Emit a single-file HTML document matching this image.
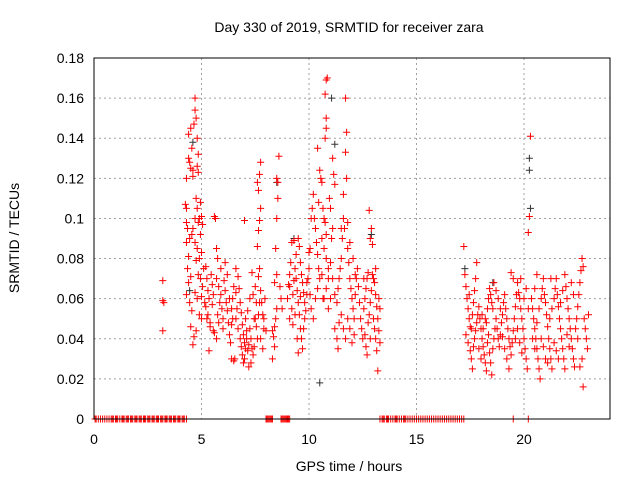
<!DOCTYPE html>
<html><head><meta charset="utf-8"><style>
body{margin:0;background:#fff}
svg{display:block;font-family:"Liberation Sans",sans-serif}
</style></head><body>
<svg id="chart" width="640" height="480" xmlns="http://www.w3.org/2000/svg">
<rect width="640" height="480" fill="#fff"/>
<text x="349" y="32" font-size="14" text-anchor="middle">Day 330 of 2019, SRMTID for receiver zara</text>
<text transform="translate(19,238) rotate(-90)" font-size="14" text-anchor="middle">SRMTID / TECUs</text>
<text x="349" y="471" font-size="14" text-anchor="middle">GPS time / hours</text>
<g id="grid"></g>
<g id="ticks"></g>
<g id="marks"></g>
<rect x="94" y="58" width="516" height="361" fill="none" stroke="#000" stroke-width="1"/>
</svg>
<script>
const xTicks=[0,5,10,15,20];
const yTicks=[0,0.02,0.04,0.06,0.08,0.1,0.12,0.14,0.16,0.18];
const yTickLabels=["0","0.02","0.04","0.06","0.08","0.1","0.12","0.14","0.16","0.18"];
const zeroHours=[0.05,0.1,0.2,0.3,0.4,0.5,0.6,0.7,0.8,0.85,0.9,1.0,1.05,1.1,1.2,1.3,1.35,1.4,1.5,1.55,1.6,1.7,1.75,1.8,1.9,1.95,2.0,2.1,2.15,2.2,2.3,2.35,2.4,2.5,2.55,2.6,2.7,2.75,2.8,2.9,2.95,3.0,3.1,3.15,3.2,3.3,3.35,3.4,3.5,3.55,3.6,3.7,3.75,3.8,3.9,3.95,4.0,4.1,4.15,4.2,4.3,8.0,8.05,8.1,8.15,8.2,8.25,8.3,8.7,8.75,8.8,8.85,8.9,8.95,9.0,9.05,9.1,13.3,13.4,13.45,13.5,13.6,13.65,13.7,13.8,13.9,14.0,14.05,14.1,14.2,14.3,14.4,14.45,14.5,14.6,14.7,14.8,14.9,15.0,15.1,15.2,15.3,15.4,15.5,15.6,15.7,15.8,15.9,16.0,16.1,16.2,16.3,16.4,16.5,16.6,16.7,16.8,16.9,17.0,17.1,17.2,19.5,20.2];
const redPoints=[[3.2,.069],[3.2,.059],[3.25,.058],[3.2,.044],
[4.25,.107],[4.3,.105],[4.3,.098],[4.35,.095],[4.3,.088],[4.4,.081],[4.35,.075],[4.3,.062],[4.4,.068],[4.45,.058],[4.5,.071],[4.55,.054],[4.5,.046],[4.6,.037],[4.65,.041],[4.4,.142],[4.5,.145],[4.55,.135],[4.45,.128],[4.6,.124],[4.6,.121],[4.7,.160],[4.7,.154],[4.65,.147],[4.75,.15],[4.8,.140],[4.85,.132],[4.8,.126],[4.85,.123],[4.3,.12],[4.4,.13],[4.5,.125],[4.75,.11],[4.8,.105],[4.85,.098],[4.7,.1],[4.6,.095],[4.9,.1],[4.95,.108],[5.0,.101],[5.05,.097],[4.95,.092],[4.7,.088],[4.8,.085],[4.75,.079],[4.9,.08],[5.0,.083],[4.85,.072],[4.95,.07],[5.05,.066],[4.7,.063],[4.8,.06],[5.0,.061],[5.1,.075],[5.15,.058],[4.9,.052],[5.0,.05],[4.75,.044],[4.55,.092],[4.45,.09],
[5.2,.076],[5.25,.07],[5.3,.064],[5.35,.06],[5.3,.052],[5.4,.048],[5.45,.072],[5.5,.067],[5.5,.057],[5.55,.062],[5.6,.101],[5.65,.1],[5.7,.085],[5.75,.08],[5.7,.07],[5.8,.066],[5.85,.058],[5.6,.043],[5.7,.04],[5.75,.052],[5.8,.048],[5.9,.062],[5.95,.055],[6.0,.045],[6.0,.05],[6.05,.069],[6.1,.064],[6.15,.058],[6.2,.054],[6.25,.048],[6.3,.042],[6.35,.038],[6.4,.047],[6.45,.06],[6.5,.066],[5.35,.034],[5.4,.046],[5.9,.075],[6.1,.078],[6.2,.072],[5.55,.044],[5.2,.056],[5.25,.05],[6.3,.06],[6.4,.055],[6.45,.05],[6.6,.063],[6.55,.03],[6.4,.03],[6.5,.029],
[6.6,.075],[6.7,.071],[6.75,.065],[6.8,.058],[6.85,.053],[6.9,.047],[6.95,.042],[7.0,.038],[7.05,.035],[6.8,.04],[6.85,.036],[6.9,.032],[6.95,.028],[7.0,.03],[7.1,.04],[7.15,.034],[7.2,.037],[7.25,.045],[7.3,.04],[7.35,.035],[7.4,.032],[7.45,.036],[7.3,.028],[7.2,.026],[7.1,.044],[7.05,.05],[7.15,.054],[7.25,.06],[7.0,.099],[7.35,.073],[7.5,.05],[7.55,.046],[7.6,.04],[7.65,.052],[7.7,.058],[7.75,.064],[7.65,.071],[7.7,.075],[7.6,.086],[7.65,.094],[7.7,.099],[7.75,.105],[7.65,.114],[7.7,.122],[7.75,.128],[7.6,.118],[7.8,.058],[7.85,.052],[7.9,.045],[7.75,.04],[7.85,.035],[7.9,.05],[7.95,.06],[8.0,.044],[7.55,.058],[7.45,.05],[7.4,.062],[7.5,.066],[6.7,.045],[6.6,.05],[6.65,.055],
[8.3,.03],[8.35,.041],[8.4,.046],[8.45,.05],[8.5,.055],[8.4,.068],[8.5,.072],[8.45,.085],[8.5,.1],[8.55,.118],[8.5,.12],[8.6,.131],[8.55,.11],[8.65,.066],[8.7,.06],[8.75,.055],[8.3,.044],[8.4,.036],
[9.0,.06],[9.05,.067],[9.1,.072],[9.15,.078],[9.2,.088],[9.3,.089],[9.1,.05],[9.2,.055],[9.25,.062],[9.3,.069],[9.35,.075],[9.4,.07],[9.45,.064],[9.5,.058],[9.55,.052],[9.6,.045],[9.65,.04],[9.7,.035],[9.4,.082],[9.5,.09],[9.55,.086],[9.6,.078],[9.65,.072],[9.7,.068],[9.75,.063],[9.8,.058],[9.85,.054],[9.9,.062],[9.95,.07],[10.0,.075],[9.1,.066],[9.25,.047],[9.35,.052],[9.45,.04],[9.5,.033],[9.75,.045],[9.8,.05],[9.9,.068],[10.0,.083],[9.6,.061],
[10.05,.085],[10.1,.1],[10.15,.105],[10.2,.112],[10.25,.1],[10.3,.095],[10.35,.088],[10.4,.082],[10.45,.075],[10.5,.07],[10.05,.062],[10.1,.055],[10.2,.05],[10.3,.06],[10.4,.065],[10.5,.124],[10.55,.12],[10.6,.118],[10.65,.105],[10.7,.1],[10.75,.098],[10.8,.092],[10.6,.09],[10.7,.085],[10.8,.08],[10.9,.075],[10.75,.14],[10.8,.145],[10.8,.15],[10.75,.162],[10.8,.169],[10.85,.17],[10.7,.06],[10.8,.065],[10.9,.07],[11.0,.078],[11.05,.09],[11.1,.095],[11.0,.105],[10.95,.11],[11.1,.13],[11.15,.122],[11.2,.117],[10.4,.135],[10.45,.108],[10.6,.072],[10.65,.06],[10.9,.055],[11.0,.06],[11.1,.07],[11.2,.062],
[11.3,.058],[11.35,.065],[11.4,.07],[11.45,.075],[11.5,.08],[11.55,.09],[11.6,.1],[11.65,.095],[11.7,.16],[11.75,.143],[11.7,.133],[11.75,.12],[11.6,.112],[11.8,.085],[11.85,.078],[11.9,.07],[11.95,.065],[12.0,.06],[12.05,.055],[12.1,.05],[11.4,.048],[11.5,.052],[11.6,.045],[11.7,.04],[11.8,.05],[11.9,.045],[12.0,.038],[12.1,.042],[12.15,.062],[12.2,.07],[12.25,.075],[12.3,.066],[12.35,.058],[12.4,.05],[12.45,.045],[12.5,.04],[11.5,.095],[11.8,.098],[11.9,.088],[12.05,.08],[12.15,.072],[11.3,.04],[11.35,.035],[11.2,.045],
[12.55,.055],[12.6,.06],[12.65,.065],[12.7,.07],[12.75,.073],[12.8,.104],[12.85,.09],[12.9,.095],[12.95,.087],[12.6,.042],[12.65,.036],[12.7,.032],[12.75,.048],[12.8,.052],[12.85,.058],[12.9,.064],[12.95,.072],[13.0,.07],[13.05,.068],[13.1,.062],[13.15,.056],[13.2,.05],[13.25,.044],[13.3,.038],[13.0,.05],[13.05,.045],[13.1,.04],[13.15,.034],[13.2,.024],[13.25,.06],[13.3,.055],[13.1,.075],[12.85,.04],[12.55,.07],
[17.2,.086],[17.25,.072],[17.3,.066],[17.35,.06],[17.4,.055],[17.45,.05],[17.5,.046],[17.3,.042],[17.4,.038],[17.5,.034],[17.55,.045],[17.6,.052],[17.65,.058],[17.7,.064],[17.75,.07],[17.8,.078],[17.55,.03],[17.65,.036],[17.7,.04],[17.75,.044],[17.8,.048],[17.85,.052],[17.9,.056],[17.95,.05],[18.0,.045],[18.05,.04],[18.1,.036],[18.15,.032],[18.2,.028],[18.25,.024],[17.9,.035],[18.0,.03],[18.1,.045],[18.2,.05],[18.3,.055],[18.35,.06],[18.4,.065],[18.45,.062],[18.5,.058],[18.55,.055],[18.3,.038],[18.35,.042],[18.4,.033],[18.45,.028],[18.5,.022],[18.55,.035],[18.6,.04],[18.65,.045],[18.7,.05],[18.75,.045],[18.8,.04],[18.85,.036],[18.9,.042],[18.95,.048],[18.6,.068],[18.7,.064],[18.8,.06],[18.9,.055],[17.45,.062],[17.6,.025],[18.05,.052],[18.25,.048],
[19.0,.052],[19.05,.058],[19.1,.062],[19.15,.055],[19.2,.05],[19.25,.045],[19.3,.04],[19.35,.036],[19.4,.032],[19.45,.038],[19.5,.044],[19.55,.05],[19.6,.056],[19.65,.062],[19.7,.068],[19.75,.063],[19.8,.06],[19.85,.055],[19.9,.05],[19.95,.045],[20.0,.04],[20.05,.035],[20.1,.03],[20.15,.025],[19.1,.035],[19.2,.03],[19.3,.025],[19.4,.073],[19.5,.07],[19.6,.04],[19.7,.045],[19.8,.038],[19.9,.033],[20.0,.06],[20.1,.065],[20.2,.093],[20.25,.101],[20.3,.141],[20.2,.055],[19.0,.041],[19.85,.07],
[20.35,.06],[20.4,.055],[20.45,.05],[20.5,.045],[20.55,.04],[20.6,.035],[20.65,.03],[20.7,.025],[20.75,.02],[20.4,.04],[20.5,.035],[20.6,.048],[20.7,.055],[20.8,.06],[20.85,.065],[20.9,.07],[20.95,.062],[21.0,.058],[21.05,.052],[21.1,.046],[21.15,.04],[21.2,.035],[21.25,.03],[21.3,.025],[20.8,.04],[20.9,.036],[21.0,.03],[21.1,.028],[21.2,.05],[21.3,.055],[21.4,.06],[21.45,.065],[21.5,.07],[21.55,.062],[21.6,.056],[21.65,.05],[21.7,.045],[21.75,.04],[21.8,.035],[21.85,.03],[21.9,.025],[21.4,.038],[21.5,.034],[21.6,.03],[21.7,.058],[21.8,.064],[21.9,.072],[21.95,.066],[22.0,.06],[22.05,.055],[22.1,.05],[22.15,.045],[22.2,.04],[22.25,.035],[22.3,.03],[22.35,.026],[22.0,.042],[22.1,.036],[22.4,.045],[22.45,.05],[22.5,.056],[22.55,.062],[22.6,.068],[22.65,.074],[22.7,.08],[22.75,.076],[22.8,.05],[22.85,.045],[22.9,.04],[22.95,.035],[22.7,.03],[22.75,.016],[22.6,.026],[22.5,.04],[22.3,.062],[22.2,.068],[21.25,.07],[20.6,.072],[20.5,.065],[23.0,.052]];
const blackPoints=[[10.5,.018],[11.05,.16],[11.2,.137],[20.25,.13],[20.25,.124],[20.3,.105],[8.5,.118],[4.6,.138],[12.9,.092],[17.25,.075],[18.55,.068],[4.45,.064],[9.3,.09]];

const NS="http://www.w3.org/2000/svg";
const X0=94,X1=610,Y0=419,Y1=58,XMAX=24,YMAX=0.18;
function xs(h){return X0+(X1-X0)*h/XMAX;}
function ys(v){return Y0-(Y0-Y1)*v/YMAX;}
function mk(tag,attrs,parent){const e=document.createElementNS(NS,tag);for(const k in attrs)e.setAttribute(k,attrs[k]);parent.appendChild(e);return e;}
const grid=document.getElementById('grid'),ticks=document.getElementById('ticks'),marks=document.getElementById('marks');
xTicks.forEach(t=>{
  const x=xs(t);
  if(t>0){const g=mk('line',{x1:x,x2:x,y1:Y1,y2:Y0,stroke:'#a0a0a0','stroke-dasharray':'2,3'},grid);
  
  }
  const tl=mk('text',{x:x,y:444,'font-size':14,'text-anchor':'middle'},ticks);tl.textContent=t;
  
  
});
yTicks.forEach((t,i)=>{
  const y=ys(t);
  if(t>0&&t<YMAX){const g=mk('line',{x1:X0,x2:X1,y1:y,y2:y,stroke:'#a0a0a0','stroke-dasharray':'2,3'},grid);
  
  }
  const tl=mk('text',{x:84,y:y+5,'font-size':14,'text-anchor':'end'},ticks);tl.textContent=yTickLabels[i];
  
  
});
function plus(h,v,color){
  const x=xs(h),y=ys(v);
  const p=mk('path',{d:`M${x-3.5},${y}H${x+3.5}M${x},${y-3.5}V${y+3.5}`,stroke:color,'stroke-width':1,fill:'none'},marks);
  return p;
}
blackPoints.forEach(p=>{const e=plus(p[0],p[1],'#333');
  
  });
redPoints.forEach(p=>{const e=plus(p[0],p[1],'#ff0000');
  
  });
zeroHours.forEach(h=>{const e=plus(h,0,'#ff0000');
  
  });
</script>
</body></html>
